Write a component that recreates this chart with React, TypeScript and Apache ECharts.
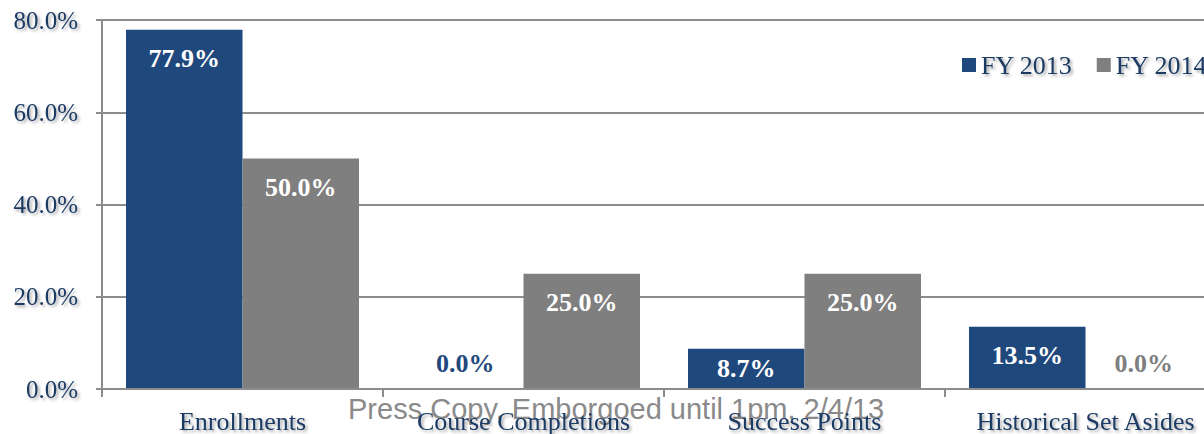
import React, { useEffect, useRef } from "react";
import * as echarts from "echarts";

const categories = ["Enrollments", "Course Completions", "Success Points", "Historical Set Asides"];
const fy2013 = [77.9, 0.0, 8.7, 13.5];
const fy2014 = [50.0, 25.0, 25.0, 0.0];
const seriesNames = ["FY 2013", "FY 2014"];
const yTicks = { min: 0, max: 80, interval: 20 };
const watermark = "Press Copy, Emborgoed until 1pm, 2/4/13";

const NAVY = "#1F497D";
const GRAY = "#7F7F7F";
const TEXT = "#1B3A63";
const SERIF = "'Liberation Serif', 'Times New Roman', serif";

const shadow = {
  textShadowColor: "rgba(0,0,0,0.35)",
  textShadowBlur: 3,
  textShadowOffsetX: 2,
  textShadowOffsetY: 2,
};

function makeData(values: number[], color: string) {
  return values.map((v) => {
    if (v === 0) {
      return {
        value: v,
        label: { position: "top", distance: 13, color },
      };
    }
    if (v < 10) {
      return { value: v, label: { position: "inside" } };
    }
    return { value: v };
  });
}

export default function App() {
  const ref = useRef<HTMLDivElement>(null);
  useEffect(() => {
    if (!ref.current) return;
    const chart = echarts.init(ref.current, null, { renderer: "svg" });
    const labelBase = {
      show: true,
      position: "insideTop",
      distance: 16,
      color: "#ffffff",
      fontFamily: SERIF,
      fontWeight: "bold",
      fontSize: 26,
      formatter: (p: any) => `${Number(p.value).toFixed(1)}%`,
    };
    chart.setOption({
      animation: false,
      backgroundColor: "#ffffff",
      grid: { left: 102, top: 20, width: 1124, height: 369, containLabel: false },
      legend: {
        left: 962,
        top: 52,
        padding: 0,
        itemWidth: 14,
        itemHeight: 14,
        itemGap: 24,
        icon: "rect",
        textStyle: { fontFamily: SERIF, fontSize: 26, color: TEXT, ...shadow },
        data: seriesNames,
      },
      xAxis: {
        type: "category",
        data: categories,
        z: 5,
        axisLine: { lineStyle: { color: "#8C8C8C", width: 2 } },
        axisTick: { show: true, length: 8, lineStyle: { color: "#8C8C8C", width: 2 } },
        axisLabel: {
          margin: 19,
          fontFamily: SERIF,
          fontSize: 26,
          color: TEXT,
          interval: 0,
          ...shadow,
        },
      },
      yAxis: {
        type: "value",
        min: yTicks.min,
        max: yTicks.max,
        interval: yTicks.interval,
        axisLine: { show: true, lineStyle: { color: "#8C8C8C", width: 2 } },
        axisTick: { show: true, length: 6, lineStyle: { color: "#8C8C8C", width: 2 } },
        splitLine: { lineStyle: { color: "#8C8C8C", width: 2 } },
        axisLabel: {
          margin: 24,
          fontFamily: SERIF,
          fontSize: 25,
          color: TEXT,
          formatter: (v: number) => `${v.toFixed(1)}%`,
          ...shadow,
        },
      },
      graphic: [
        {
          type: "text",
          left: 348,
          top: 394,
          z: 0,
          style: {
            text: watermark,
            fontFamily: "'Liberation Sans', Arial, sans-serif",
            fontSize: 29,
            fill: "#8A8A8A",
          },
        },
      ],
      series: [
        {
          name: seriesNames[0],
          type: "bar",
          barWidth: 116.5,
          barGap: "0%",
          itemStyle: { color: NAVY },
          label: labelBase,
          data: makeData(fy2013, NAVY),
        },
        {
          name: seriesNames[1],
          type: "bar",
          barWidth: 116.5,
          barGap: "0%",
          itemStyle: { color: GRAY },
          label: labelBase,
          data: makeData(fy2014, GRAY),
        },
      ],
    });
    return () => chart.dispose();
  }, []);
  return (
    <div style={{ position: "fixed", left: 0, top: 0, width: 1204, height: 434, overflow: "hidden", background: "#fff" }}>
      <div ref={ref} style={{ width: 1260, height: 434 }} />
    </div>
  );
}
